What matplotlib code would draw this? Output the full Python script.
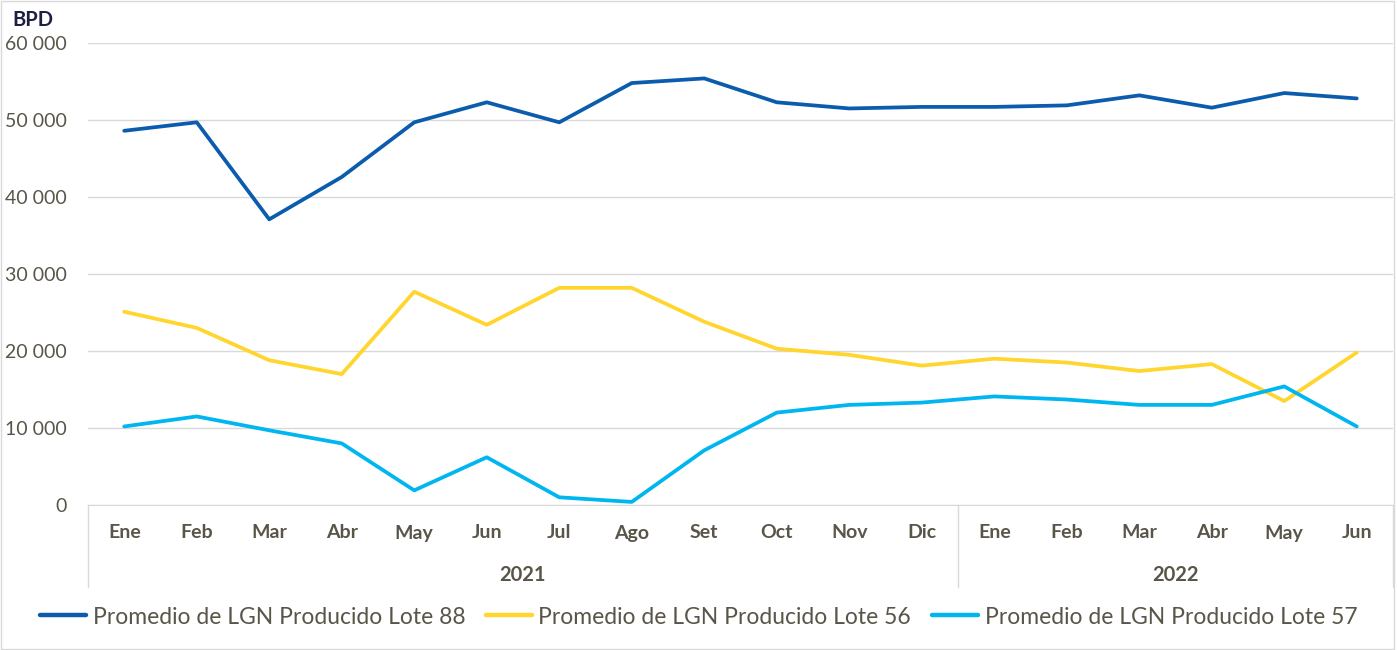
import matplotlib.pyplot as plt
import matplotlib.transforms as mtransforms
from matplotlib.patches import Rectangle

# --- data ---
months = ["Ene", "Feb", "Mar", "Abr", "May", "Jun", "Jul", "Ago", "Set", "Oct", "Nov", "Dic",
          "Ene", "Feb", "Mar", "Abr", "May", "Jun"]
years = ["2021", "2022"]
year_counts = [12, 6]

lote88 = [48600, 49700, 37100, 42600, 49700, 52300, 49700, 54800, 55400, 52300, 51500, 51700,
          51700, 51900, 53200, 51600, 53500, 52800]
lote56 = [25100, 23000, 18800, 17000, 27700, 23400, 28200, 28200, 23800, 20300, 19500, 18100,
          19000, 18500, 17400, 18300, 13500, 19800]
lote57 = [10200, 11500, 9700, 8000, 1900, 6200, 1000, 400, 7100, 12000, 13000, 13300,
          14100, 13700, 13000, 13000, 15400, 10200]

series_names = ["Promedio de LGN Producido Lote 88",
                "Promedio de LGN Producido Lote 56",
                "Promedio de LGN Producido Lote 57"]
colors = ["#0B5CAD", "#FFD52E", "#00B6F0"]
text_col = "#595548"

plt.rcParams["font.family"] = ["Lato", "DejaVu Sans"]

fig = plt.figure(figsize=(13.97, 6.5), dpi=100)
W, H = 1397, 650
ax = fig.add_axes([88 / W, 1 - 505 / H, (1393 - 88) / W, (505 - 43) / H])

x = list(range(len(months)))
for vals, name, c in zip([lote88, lote56, lote57], series_names, colors):
    ax.plot(x, vals, color=c, lw=2.7, label=name, solid_capstyle="round", solid_joinstyle="round")

ax.set_xlim(-0.5, len(months) - 0.5)
ax.set_ylim(0, 60000)
ax.set_yticks(range(0, 60001, 10000))
ax.set_yticklabels([f"{v:,}".replace(",", " ") for v in range(0, 60001, 10000)],
                   fontsize=14, color=text_col)
ax.tick_params(axis="y", length=0, pad=15)
ax.set_xticks([])
ax.grid(axis="y", color="#D9D9D9", lw=1)
ax.set_axisbelow(True)
for s in ["top", "right", "left"]:
    ax.spines[s].set_visible(False)
ax.spines["bottom"].set_color("#D9D9D9")

# category axis: months, years and separators
trans = mtransforms.blended_transform_factory(ax.transData, ax.transAxes)
for i, m in enumerate(months):
    ax.text(i, -28 / 462, m, transform=trans, ha="center", va="center",
            fontsize=14, fontweight="bold", color=text_col)
start = 0
bounds = [-0.5]
for yr, n in zip(years, year_counts):
    ax.text(start + (n - 1) / 2, -70 / 462, yr, transform=trans, ha="center", va="center",
            fontsize=14.5, fontweight="bold", color=text_col)
    start += n
    bounds.append(start - 0.5)
for b in bounds:
    ax.plot([b, b], [0, -82 / 462], transform=trans, color="#D9D9D9", lw=1, clip_on=False)

fig.text(12 / W, 1 - 20 / H, "BPD", fontsize=14.5, fontweight="bold", color="#1F1F45",
         va="center", ha="left")

leg = fig.legend(loc="center", bbox_to_anchor=(0.5, 1 - 617 / H), ncol=3, frameon=False,
                 fontsize=16.5, handlelength=2.0, handletextpad=0.3, columnspacing=0.9)
for t in leg.get_texts():
    t.set_color(text_col)
for h in leg.get_lines():
    h.set_linewidth(3.2)

fig.patches.append(Rectangle((0.001, 0.001), 0.997, 0.997, transform=fig.transFigure,
                             fill=False, edgecolor="#D9D9D9", lw=1))

fig.savefig("out.png", dpi=100)
